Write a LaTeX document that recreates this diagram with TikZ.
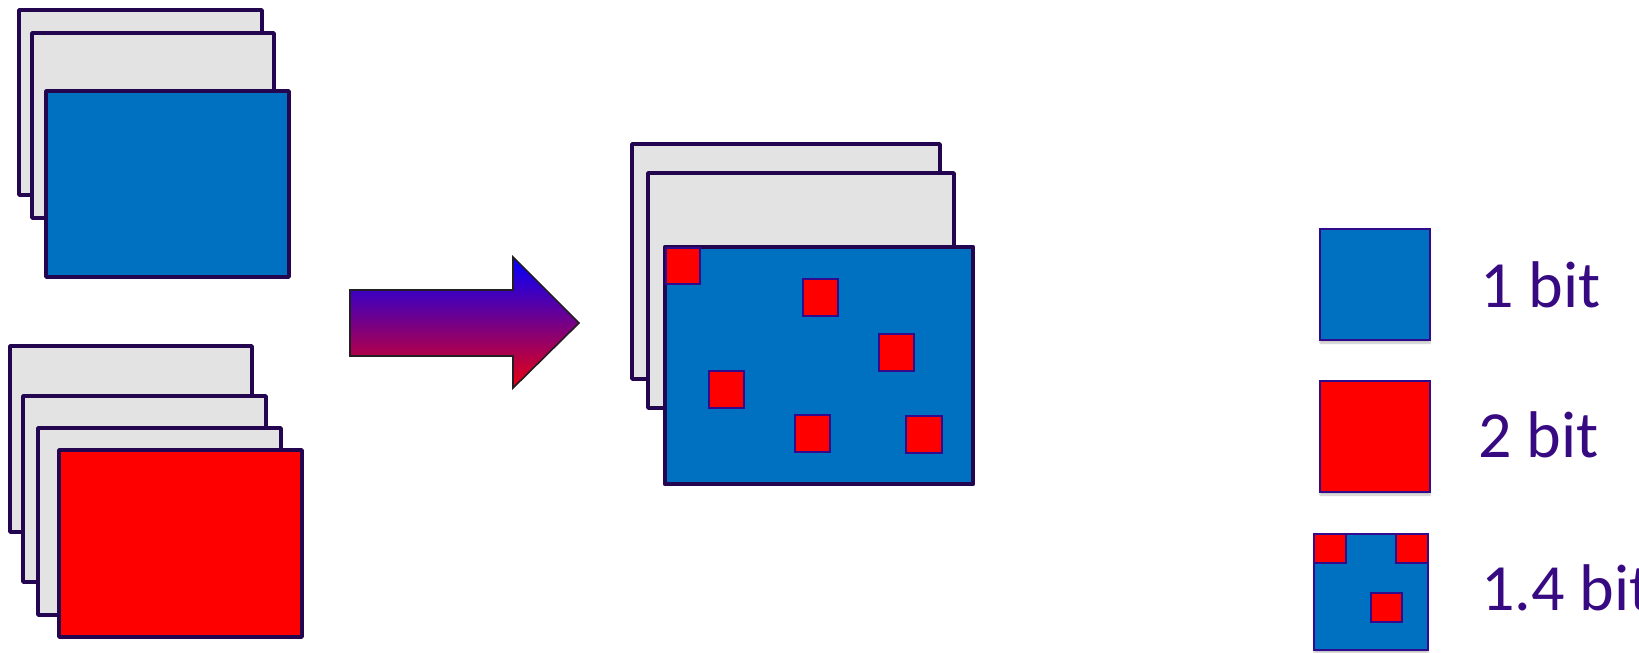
\documentclass[tikz,border=0pt]{standalone}
\usepackage{fontspec}
\setmainfont{Carlito}
\usetikzlibrary{shadows.blur}
\definecolor{edge}{RGB}{35,5,80}
\definecolor{sheet}{RGB}{227,227,227}
\definecolor{oneblue}{RGB}{0,112,192}
\definecolor{twored}{RGB}{255,0,0}
\definecolor{labelink}{RGB}{55,10,130}
\definecolor{keyedge}{RGB}{50,10,140}
\tikzset{
  backsheet/.style={draw=edge, line width=3.5pt, fill=sheet, line join=round},
  bluesheet/.style={draw=edge, line width=3.5pt, fill=oneblue, line join=round},
  redsheet/.style={draw=edge, line width=3.5pt, fill=twored, line join=round},
  patch/.style={draw=keyedge, line width=1.3pt, fill=twored},
  keysquare/.style={draw=keyedge, line width=2pt,
    blur shadow={shadow xshift=0pt, shadow yshift=-3pt, shadow blur steps=6, shadow opacity=25}},
  keylabel/.style={anchor=base west, inner sep=0pt, text=labelink, font=\fontsize{66}{70}\selectfont},
  bigarrow/.style={draw={rgb,255:red,35;green,30;blue,35}, line width=1.6pt, line join=miter,
    top color={rgb,255:red,0;green,0;blue,255}, bottom color={rgb,255:red,235;green,0;blue,15}}
}
\begin{document}
\begin{tikzpicture}[x=1pt, y=-1pt]
\useasboundingbox (0,0) rectangle (1639,653);

% stack of 1-bit frames
\draw[backsheet] (19,10) rectangle (262,195);
\draw[backsheet] (32,33) rectangle (274,218);
\draw[bluesheet] (46,91) rectangle (289,277);

% stack of 2-bit frames
\draw[backsheet] (10,346) rectangle (252,532);
\draw[backsheet] (23,396) rectangle (266,582);
\draw[backsheet] (38,428) rectangle (281,615);
\draw[redsheet] (59,450) rectangle (302,637);

% conversion arrow
\draw[bigarrow] (350,290) -- (513,290) -- (513,257) -- (579,323) -- (513,388)
  -- (513,356) -- (350,356) -- cycle;

% mixed-precision frames
\draw[backsheet] (632,144) rectangle (940,379);
\draw[backsheet] (648,173) rectangle (954,408);
\draw[bluesheet, line width=4.5pt] (665,247) rectangle (973,484);
\draw[patch] (666,248) rectangle (700,284);
\draw[patch] (803,279) rectangle (838,316);
\draw[patch] (879,334) rectangle (914,371);
\draw[patch] (709,371) rectangle (744,408);
\draw[patch] (795,415) rectangle (830,452);
\draw[patch] (906,416) rectangle (942,453);

% key
\draw[keysquare, fill=oneblue] (1320,229) rectangle (1430,340);
\draw[keysquare, fill=twored] (1320,381) rectangle (1430,492);
\draw[keysquare, fill=oneblue] (1314,534) rectangle (1428,650);
\draw[patch] (1314,534) rectangle (1346,563);
\draw[patch] (1396,534) rectangle (1428,563);
\draw[patch] (1371,593) rectangle (1402,622);

\node[keylabel] (onebit) at (1480,307) {1 bit};
\node[keylabel] (twobit) at (1478,457) {2 bit};
\node[keylabel] (mixbit) at (1481,610) {1.4 bit};
\end{tikzpicture}
\end{document}
